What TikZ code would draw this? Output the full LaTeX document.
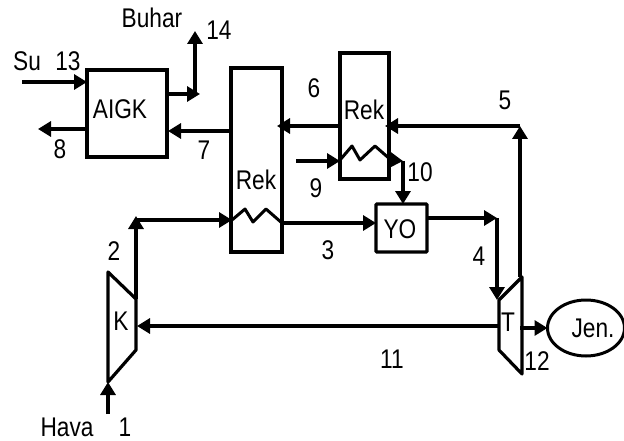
\documentclass[tikz,border=0pt]{standalone}
\usepackage{fontspec}
\setmainfont[FakeStretch=0.84]{Liberation Sans}
\usetikzlibrary{arrows.meta,shapes.geometric}
\tikzset{
  unit/.style={draw, line width=3.3pt, minimum width=#1, inner sep=0pt, outer sep=0pt},
  lbl/.style={inner sep=0pt, font=\fontsize{27}{29}\selectfont},
  pipe/.style={line width=3.3pt},
  flow/.style={pipe, -{Triangle[length=13pt,width=15pt]}},
  turbo/.style={line width=3.2pt, line join=round},
  coil/.style={line width=3pt, line join=round}
}
\begin{document}
\begin{tikzpicture}[x=1pt, y=-1pt]
  \useasboundingbox (0,0) rectangle (624,441);

  % Boxes
  \node[unit=80pt, minimum height=87pt] (aigk) at (127,113.5) {};
  \node[unit=51pt, minimum height=184pt] (rekb) at (256.5,160) {};
  \node[unit=49pt, minimum height=126pt] (rekt) at (364.5,116) {};
  \node[unit=51pt, minimum height=48pt, rounded corners=1pt] (yo) at (401.5,228) {};
  \node[ellipse, unit=77pt, line width=3pt, minimum height=56pt] (jen) at (586,328) {};

  % Compressor and turbine
  \coordinate (ktl) at (108,272);
  \coordinate (ktr) at (136,299);
  \coordinate (kbr) at (136,350);
  \coordinate (kbl) at (108,382);
  \draw[turbo] (ktl) -- (ktr) -- (kbr) -- (kbl) -- cycle;
  \coordinate (ttl) at (499,300);
  \coordinate (ttr) at (522,277);
  \coordinate (tbr) at (522,374);
  \coordinate (tbl) at (499,350);
  \draw[turbo] (ttl) -- (ttr) -- (tbr) -- (tbl) -- cycle;

  % Coils
  \coordinate (cbl) at (232,220);
  \coordinate (cbr) at (282,223);
  \draw[coil] (cbl) -- (245,209) -- (253,222) -- (266,209) -- (cbr);
  \coordinate (ctl) at (340,160);
  \coordinate (ctr) at (391,160);
  \draw[coil] (ctl) -- (352,146) -- (360,160) -- (375,146) -- (ctr);

  % Left side
  \coordinate (su) at (22,82);
  \draw[flow] (su) -- (su -| aigk.west);
  \coordinate (eight) at (38,129);
  \draw[flow] (eight -| aigk.west) -- (eight);
  \coordinate (steam) at (200,94);
  \draw[flow] (steam -| aigk.east) -- (steam);
  \coordinate (steamtop) at (195,31);
  \draw[flow] (steamtop |- steam) -- (steamtop);
  \coordinate (seven) at (168,131);
  \draw[flow] (seven -| rekb.west) -- (seven);
  \coordinate (six) at (277,126);
  \draw[flow] (six -| rekt.west) -- (six);

  % Exhaust
  \coordinate (five) at (385,126);
  \coordinate (fiver) at (520,126);
  \draw[flow] (fiver) -- (five);
  \draw[flow] (ttr -| fiver) -- (fiver);

  % Water side of upper coil
  \coordinate (nine) at (296,161);
  \draw[flow] (nine) -- (ctl |- nine);
  \coordinate (ten) at (403,161);
  \draw[flow] (ctr) -- (ten);
  \draw[flow] (ten) -- (ten |- yo.north);

  % Air
  \coordinate (hava) at (108,414);
  \draw[flow] (hava) -- (kbl);
  \coordinate (two) at (136,216);
  \draw[flow] (ktr) -- (two);
  \draw[flow] (two |- cbl) -- (cbl);
  \draw[flow] (cbr) -- (yo.west |- cbr);

  % Combustion gas
  \coordinate (four) at (497,218);
  \draw[flow] (four -| yo.east) -- (four);
  \draw[flow] (four) -- (ttl -| four);

  % Shaft
  \coordinate (shaft) at (137,326);
  \draw[flow] (ttl |- shaft) -- (shaft);
  \draw[flow] (520,328) -- (jen.west);

  % Labels
  \node[lbl] (aigktext) at (120,109) {AIGK};
  \node[lbl] (rekbtext) at (256,180) {Rek};
  \node[lbl] (rekttext) at (364,110) {Rek};
  \node[lbl] (yotext) at (400,229) {YO};
  \node[lbl] (jentext) at (593,328) {Jen.};
  \node[lbl] (ktext) at (121,321) {K};
  \node[lbl] (ttext) at (508,322) {T};
  \node[lbl] (sutext) at (27,61) {Su};
  \node[lbl] (n13) at (68,61) {13};
  \node[lbl] (buhartext) at (152,18) {Buhar};
  \node[lbl] (n14) at (219,30) {14};
  \node[lbl] (n8) at (60,149) {8};
  \node[lbl] (n7) at (204,150) {7};
  \node[lbl] (n6) at (314,88) {6};
  \node[lbl] (n5) at (505,100) {5};
  \node[lbl] (n9) at (316,188) {9};
  \node[lbl] (n10) at (420,172) {10};
  \node[lbl] (n2) at (114,251) {2};
  \node[lbl] (n3) at (328,250) {3};
  \node[lbl] (n4) at (479,256) {4};
  \node[lbl] (n11) at (392,359) {11};
  \node[lbl] (n12) at (537,361) {12};
  \node[lbl] (havatext) at (67,427) {Hava};
  \node[lbl] (n1) at (125,427) {1};
\end{tikzpicture}
\end{document}
